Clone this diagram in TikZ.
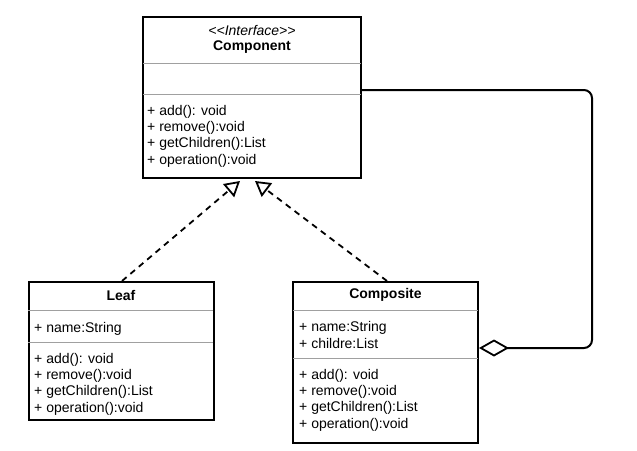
\documentclass[tikz,border=0pt]{standalone}
\usepackage{fontspec}
\setmainfont{Liberation Sans}
\usetikzlibrary{arrows.meta}

\begin{document}
\begin{tikzpicture}[x=1pt,y=-1pt]
    \definecolor{borderColour}{HTML}{000000}
    \definecolor{sepColour}{HTML}{A0A0A0}

    \tikzset{
        classbox/.style={draw=borderColour, line width=2pt, inner sep=0pt, rectangle},
        sepline/.style={draw=sepColour, line width=0.9pt},
        title/.style={inner sep=0pt, font=\fontsize{14}{16}\selectfont\bfseries},
        members/.style={anchor=base west, align=left, inner sep=0pt, font=\fontsize{14}{16.3}\selectfont},
        realises/.style={draw=borderColour, line width=1.8pt, dash pattern=on 6pt off 5pt,
            -{Triangle[open, length=15pt, width=17pt, line width=1.8pt]}},
        aggregation/.style={draw=borderColour, line width=2pt, rounded corners=8pt,
            -{Diamond[open, length=30pt, width=17pt, line width=1.8pt]}}
    }

    \useasboundingbox (0,0) rectangle (637,450);

    % Class boxes
    \node[classbox, minimum width=218pt, minimum height=161pt] (component) at (252,97.5) {};
    \node[classbox, minimum width=185pt, minimum height=138pt] (leaf) at (121,351) {};
    \node[classbox, minimum width=185pt, minimum height=161pt] (composite) at (385.5,362.5) {};

    % Separators
    \draw[sepline] (143,63) -- (361,63);
    \draw[sepline] (143,94) -- (361,94);
    \draw[sepline] (28,310) -- (213,310);
    \draw[sepline] (28,342) -- (213,342);
    \draw[sepline] (293,310) -- (478,310);
    \draw[sepline] (293,358) -- (478,358);

    % Component (base anchor of a multi-line node sits on its last line)
    \node[inner sep=0pt, font=\fontsize{14}{16}\selectfont\itshape] (compStereo) at (252,30) {<\kern0pt<Interface>\kern0pt>};
    \node[title] (compTitle) at (252,47) {Component};
    \node[members] (compOps) at (147,164) {+ add(): void\\+ remove():void\\+ getChildren():List\\+ operation():void};

    % Leaf
    \node[title] (leafTitle) at (121,295) {Leaf};
    \node[members] (leafAttrs) at (34,332) {+ name:String};
    \node[members] (leafOps) at (34,412) {+ add(): void\\+ remove():void\\+ getChildren():List\\+ operation():void};

    % Composite
    \node[title] (compoTitle) at (385.5,295) {Composite};
    \node[members] (compoAttrs) at (299,348) {+ name:String\\+ childre:List};
    \node[members] (compoOps) at (299,428) {+ add(): void\\+ remove():void\\+ getChildren():List\\+ operation():void};

    % Realisation arrows
    \coordinate (leafTip) at (240,181);
    \coordinate (compoTip) at (255,181);
    \draw[realises] ([xshift=1pt]leaf.north) -- (leafTip);
    \draw[realises] ([xshift=1.5pt]composite.north) -- (compoTip);

    % Aggregation
    \draw[aggregation] (component.east |- 0,90) -- (592,90) -- (592,348) -- (composite.east |- 0,348);

\end{tikzpicture}
\end{document}
